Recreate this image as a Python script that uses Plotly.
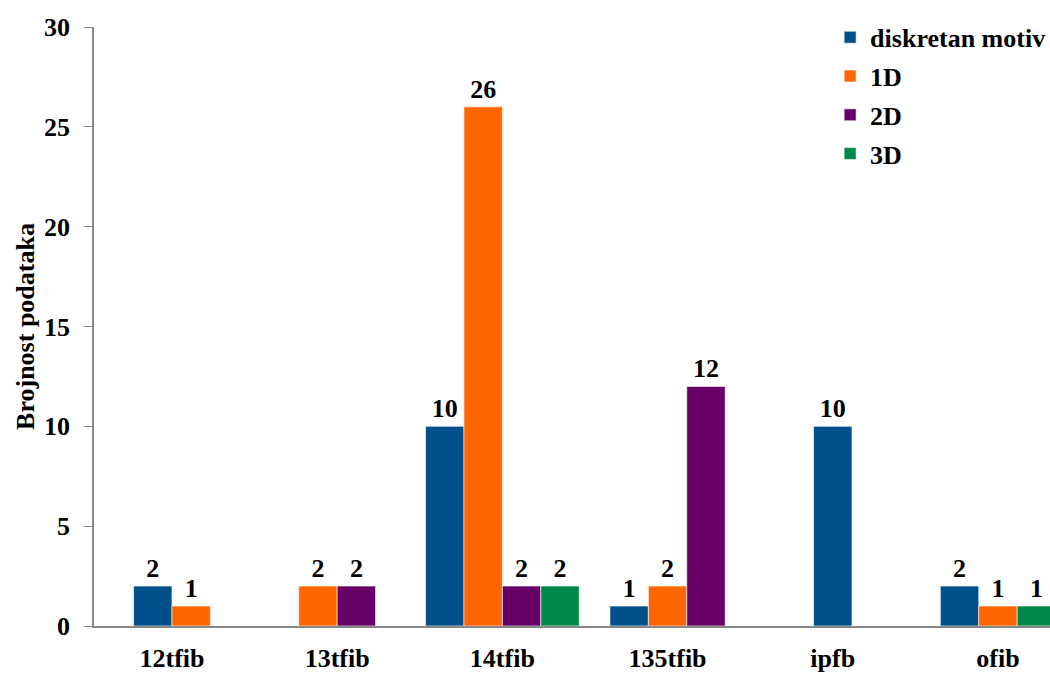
import plotly.graph_objects as go

# data
categories = ["12tfib", "13tfib", "14tfib", "135tfib", "ipfb", "ofib"]
diskretan_motiv = [2, 0, 10, 1, 10, 2]
jedan_d = [1, 2, 26, 2, 0, 1]
dva_d = [0, 2, 2, 12, 0, 0]
tri_d = [0, 0, 2, 0, 0, 1]
series_names = ["diskretan motiv", "1D", "2D", "3D"]
y_tickvals = [0, 5, 10, 15, 20, 25, 30]

COLORS = ["#00508C", "#FF6600", "#660066", "#00874A"]
FONT = "Liberation Serif"
BAR_W = 0.2325
FS = 26

series = [diskretan_motiv, jedan_d, dva_d, tri_d]

# only the non-zero bars of each category are drawn, centred on the category
offsets = [[0] * len(categories) for _ in series]
for j in range(len(categories)):
    present = [i for i, s in enumerate(series) if s[j]]
    n = len(present)
    for k, i in enumerate(present):
        offsets[i][j] = (k - n / 2) * BAR_W

fig = go.Figure()
for i, (name, vals) in enumerate(zip(series_names, series)):
    fig.add_trace(go.Bar(
        x=categories,
        y=[v if v else None for v in vals],
        name=name,
        legendgroup=name,
        width=BAR_W,
        offset=offsets[i],
        marker=dict(color=COLORS[i], line=dict(color="rgba(255,255,255,0.6)", width=1)),
        text=[str(v) if v else "" for v in vals],
        textposition="outside",
        textfont=dict(family=FONT, size=FS, color="black", weight="bold"),
        cliponaxis=False,
    ))

fig.update_layout(
    width=1050,
    height=675,
    barmode="overlay",
    plot_bgcolor="white",
    paper_bgcolor="white",
    margin=dict(l=94, r=0, t=27, b=49, autoexpand=False),
    font=dict(family=FONT, size=FS, color="black", weight="bold"),
    showlegend=True,
    legend=dict(
        x=0.770, y=1.022, xanchor="left", yanchor="top",
        font=dict(family=FONT, size=FS, weight="bold"),
        tracegroupgap=2,
        bgcolor="rgba(0,0,0,0)",
    ),
    xaxis=dict(
        type="category",
        range=[-0.472, 5.315],
        automargin=False,
        showline=True,
        linecolor="#888888",
        linewidth=1.5,
        ticks="",
        showgrid=False,
        ticklabelstandoff=8,
        tickfont=dict(family=FONT, size=FS, weight="bold"),
    ),
    yaxis=dict(
        range=[0, 30],
        tickvals=y_tickvals,
        automargin=False,
        showline=True,
        linecolor="#888888",
        linewidth=1.5,
        ticks="outside",
        ticklen=8,
        tickcolor="#888888",
        showgrid=False,
        zeroline=False,
        ticklabelstandoff=9,
        tickfont=dict(family=FONT, size=FS, weight="bold"),
        title=dict(text="Brojnost podataka", standoff=2,
                   font=dict(family=FONT, size=FS, weight="bold")),
    ),
)

# drop the default page margin so the figure sits at the window's corner
fig.write_html("out.html", config={"displayModeBar": False},
               post_script="document.body.style.margin='0';")
